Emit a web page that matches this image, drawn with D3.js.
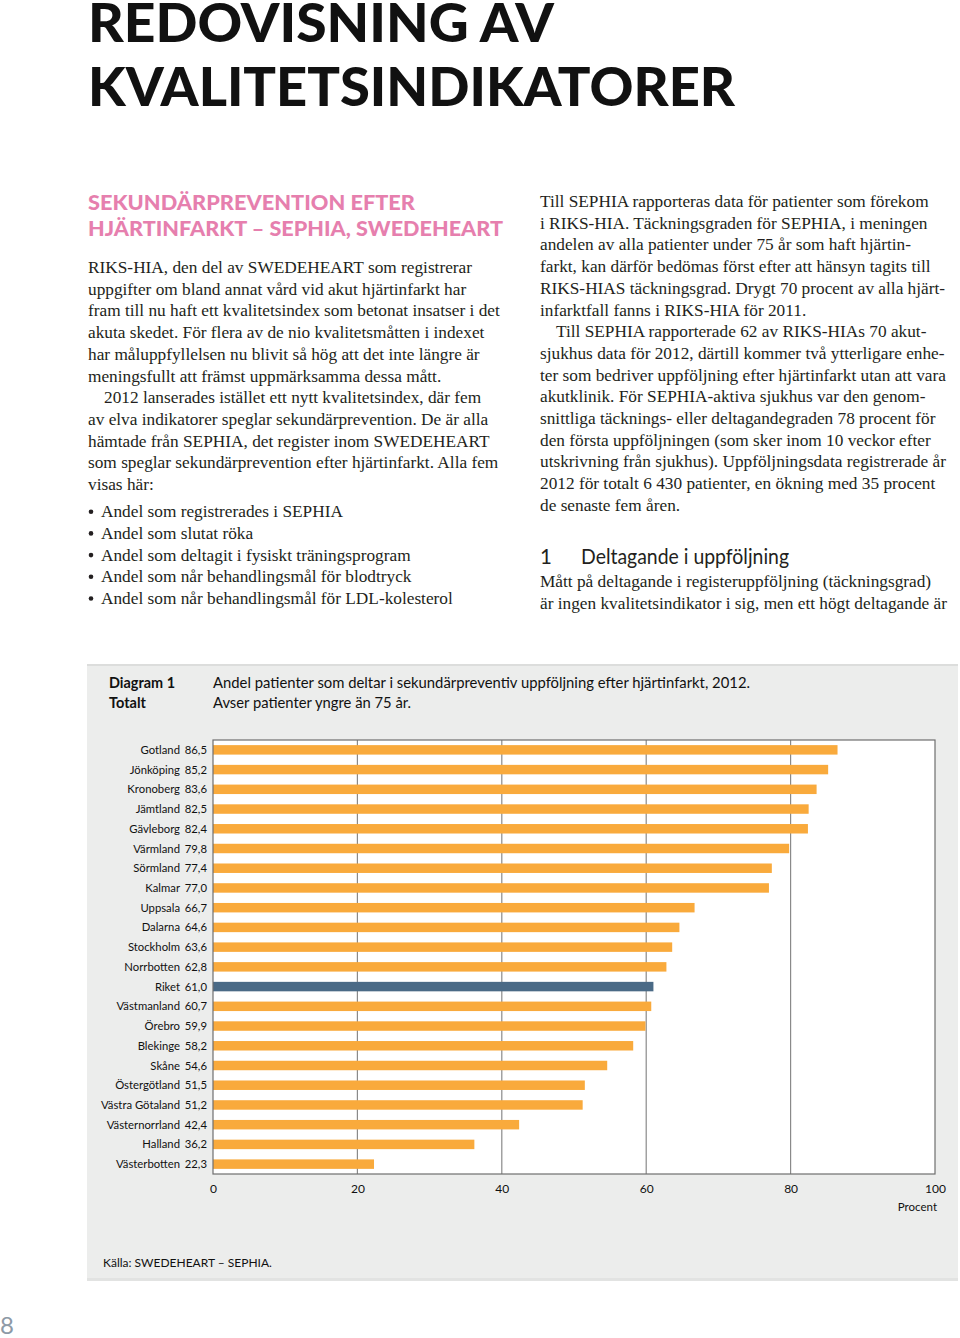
<!DOCTYPE html>
<html><head><meta charset="utf-8">
<script src="https://cdn.jsdelivr.net/npm/d3@7"></script>
<style>
html,body{margin:0;padding:0;background:#fff;}
svg{display:block;}
</style></head>
<body>
<script>
// ---------- DATA ----------
const regions = ["Gotland","Jönköping","Kronoberg","Jämtland","Gävleborg","Värmland","Sörmland","Kalmar","Uppsala","Dalarna","Stockholm","Norrbotten","Riket","Västmanland","Örebro","Blekinge","Skåne","Östergötland","Västra Götaland","Västernorrland","Halland","Västerbotten"];
const values = [86.5,85.2,83.6,82.5,82.4,79.8,77.4,77.0,66.7,64.6,63.6,62.8,61.0,60.7,59.9,58.2,54.6,51.5,51.2,42.4,36.2,22.3];
const highlight = "Riket";
const xTicks = [0,20,40,60,80,100];

const pageTitle = ["REDOVISNING AV","KVALITETSINDIKATORER"];
const sectionTitle = ["SEKUNDÄRPREVENTION EFTER","HJÄRTINFARKT – SEPHIA, SWEDEHEART"];
const leftParas = [
  ["RIKS-HIA, den del av SWEDEHEART som registrerar",
   "uppgifter om bland annat vård vid akut hjärtinfarkt har",
   "fram till nu haft ett kvalitetsindex som betonat insatser i det",
   "akuta skedet. För flera av de nio kvalitetsmåtten i indexet",
   "har måluppfyllelsen nu blivit så hög att det inte längre är",
   "meningsfullt att främst uppmärksamma dessa mått."],
  ["2012 lanserades istället ett nytt kvalitetsindex, där fem",
   "av elva indikatorer speglar sekundärprevention. De är alla",
   "hämtade från SEPHIA, det register inom SWEDEHEART",
   "som speglar sekundärprevention efter hjärtinfarkt. Alla fem",
   "visas här:"]
];
const bullets = ["Andel som registrerades i SEPHIA","Andel som slutat röka","Andel som deltagit i fysiskt träningsprogram","Andel som når behandlingsmål för blodtryck","Andel som når behandlingsmål för LDL-kolesterol"];
const rightParas = [
  ["Till SEPHIA rapporteras data för patienter som förekom",
   "i RIKS-HIA. Täckningsgraden för SEPHIA, i meningen",
   "andelen av alla patienter under 75 år som haft hjärtin-",
   "farkt, kan därför bedömas först efter att hänsyn tagits till",
   "RIKS-HIAS täckningsgrad. Drygt 70 procent av alla hjärt-",
   "infarktfall fanns i RIKS-HIA för 2011."],
  ["Till SEPHIA rapporterade 62 av RIKS-HIAs 70 akut-",
   "sjukhus data för 2012, därtill kommer två ytterligare enhe-",
   "ter som bedriver uppföljning efter hjärtinfarkt utan att vara",
   "akutklinik. För SEPHIA-aktiva sjukhus var den genom-",
   "snittliga täcknings- eller deltagandegraden 78 procent för",
   "den första uppföljningen (som sker inom 10 veckor efter",
   "utskrivning från sjukhus). Uppföljningsdata registrerade år",
   "2012 för totalt 6 430 patienter, en ökning med 35 procent",
   "de senaste fem åren."]
];
const subHeadNum = "1";
const subHead = "Deltagande i uppföljning";
const subParas = ["Mått på deltagande i registeruppföljning (täckningsgrad)","är ingen kvalitetsindikator i sig, men ett högt deltagande är"];
const diagLabel = ["Diagram 1","Totalt"];
const diagTitle = ["Andel patienter som deltar i sekundärpreventiv uppföljning efter hjärtinfarkt, 2012.","Avser patienter yngre än 75 år."];
const axisUnit = "Procent";
const source = "Källa: SWEDEHEART – SEPHIA.";
const pageNum = "8";

// ---------- DRAW ----------
const W = 960, H = 1338;
const svg = d3.select("body").append("svg").attr("width", W).attr("height", H);

const SANS = "Lato, 'Open Sans', sans-serif";
const SERIF = "'Liberation Serif', 'DejaVu Serif', serif";
const textCol = "#231f20";

// page title
svg.selectAll("text.ptitle").data(pageTitle).enter().append("text")
  .attr("x", 88).attr("y", (d,i)=>42+i*64)
  .attr("font-family", SANS).attr("font-weight", 900).attr("font-size", 53)
  .attr("fill", "#111")
  .attr("textLength", (d,i)=> i===0 ? 466 : 647).attr("lengthAdjust","spacingAndGlyphs")
  .text(d=>d);

// section title
svg.selectAll("text.stitle").data(sectionTitle).enter().append("text")
  .attr("x", 88).attr("y", (d,i)=>210+i*26)
  .attr("font-family", SANS).attr("font-weight", 900).attr("font-size", 21)
  .attr("fill", "#e67fae")
  .attr("textLength", (d,i)=> i===0 ? 327 : 415).attr("lengthAdjust","spacingAndGlyphs")
  .text(d=>d);

const LH = 21.7;
function para(lines, x, y0, indent, cls){
  svg.selectAll(null).data(lines).enter().append("text")
    .attr("x", (d,i)=> x + (i===0 ? indent : 0))
    .attr("y", (d,i)=> y0 + i*LH)
    .attr("font-family", SERIF).attr("font-size", 17.3)
    .attr("fill", textCol)
    .text(d=>d);
}
// left column
para(leftParas[0], 88, 273, 0);
para(leftParas[1], 88, 273 + 6*LH, 16);
const by0 = 273 + 11*LH + 5.5;
svg.selectAll(null).data(bullets).enter().append("circle")
  .attr("cx", 91).attr("cy",(d,i)=>by0 + i*LH - 5.5).attr("r", 2.3).attr("fill", textCol);
para(bullets, 101, by0, 0);

// right column
para(rightParas[0], 540, 207, 0);
para(rightParas[1], 540, 207 + 6*LH, 16);
svg.append("text").attr("x",540).attr("y",564).attr("font-family",SANS).attr("font-size",20.5).attr("fill",textCol).text(subHeadNum);
svg.append("text").attr("x",581).attr("y",564).attr("font-family",SANS).attr("font-size",20.5).attr("fill",textCol)
  .attr("textLength",208).attr("lengthAdjust","spacingAndGlyphs").text(subHead);
para(subParas, 540, 587, 0);

// ---------- diagram panel ----------
const panel = {x:87, y:664, w:871, h:617};
svg.append("rect").attr("x",panel.x).attr("y",panel.y).attr("width",panel.w).attr("height",panel.h).attr("fill","#ecedec");
svg.append("rect").attr("x",panel.x).attr("y",panel.y).attr("width",panel.w).attr("height",2).attr("fill","#dcdddc");
svg.append("rect").attr("x",panel.x).attr("y",panel.y+panel.h-3).attr("width",panel.w).attr("height",3).attr("fill","#e2e3e2");

svg.selectAll(null).data(diagLabel).enter().append("text")
  .attr("x",109).attr("y",(d,i)=>688+i*20)
  .attr("font-family",SANS).attr("font-weight",700).attr("font-size",15).attr("fill","#111")
  .attr("textLength",(d,i)=> i===0?66:37).attr("lengthAdjust","spacingAndGlyphs")
  .text(d=>d);
svg.selectAll(null).data(diagTitle).enter().append("text")
  .attr("x",213).attr("y",(d,i)=>688+i*20)
  .attr("font-family",SANS).attr("font-size",15).attr("fill","#111")
  .attr("textLength",(d,i)=> i===0?537:198).attr("lengthAdjust","spacingAndGlyphs")
  .text(d=>d);

const plot = {x0:213, x1:935, y0:740, y1:1174};
const x = d3.scaleLinear().domain([0,100]).range([plot.x0, plot.x1]);
const y = d3.scaleBand().domain(regions).range([plot.y0, plot.y1]).paddingInner(0.52).paddingOuter(0.26);

const g = svg.append("g");
g.append("rect").attr("x",plot.x0).attr("y",plot.y0).attr("width",plot.x1-plot.x0).attr("height",plot.y1-plot.y0).attr("fill","#fff");

// gridlines
g.selectAll("line.grid").data(xTicks.filter(t=>t>0 && t<100)).enter().append("line")
  .attr("x1",d=>x(d)).attr("x2",d=>x(d)).attr("y1",plot.y0).attr("y2",plot.y1)
  .attr("stroke","#8a8a8a").attr("stroke-width",1.2);

// bars
g.selectAll("rect.bar").data(regions).enter().append("rect")
  .attr("x", x(0)).attr("y", d=>y(d)).attr("height", y.bandwidth())
  .attr("width", (d,i)=> x(values[i]) - x(0))
  .attr("fill", d=> d===highlight ? "#4a6a86" : "#f9aa3c");

// frame
g.append("rect").attr("x",plot.x0).attr("y",plot.y0).attr("width",plot.x1-plot.x0).attr("height",plot.y1-plot.y0)
  .attr("fill","none").attr("stroke","#6e6e6e").attr("stroke-width",1.2);

// axis labels
const xAxis = d3.axisBottom(x).tickValues(xTicks).tickSize(0).tickPadding(0).tickFormat(d3.format("d"));
const ax = svg.append("g").attr("transform",`translate(0,${plot.y1})`).call(xAxis);
ax.select(".domain").remove();
ax.selectAll("text").attr("y",19).attr("dy",0).attr("font-family",SANS).attr("font-size",12).attr("fill","#111");

svg.append("text").attr("x",plot.x1+2).attr("y",1211).attr("text-anchor","end")
  .attr("font-family",SANS).attr("font-size",11.5).attr("fill","#111").text(axisUnit);

// category labels & values
const fmt = v => d3.format(".1f")(v).replace(".",",");
svg.selectAll(null).data(regions).enter().append("text")
  .attr("x",180).attr("y",d=>y(d)+y.bandwidth()/2+4)
  .attr("text-anchor","end").attr("font-family",SANS).attr("font-size",11.3).attr("fill","#111")
  .text(d=>d);
svg.selectAll(null).data(regions).enter().append("text")
  .attr("x",207).attr("y",d=>y(d)+y.bandwidth()/2+4)
  .attr("text-anchor","end").attr("font-family",SANS).attr("font-size",11.3).attr("fill","#111")
  .text((d,i)=>fmt(values[i]));

svg.append("text").attr("x",103).attr("y",1267).attr("font-family",SANS).attr("font-size",12).attr("fill","#111").text(source);

svg.append("text").attr("x",0).attr("y",1334).attr("font-family",SANS).attr("font-size",24).attr("fill","#8d9aa6").text(pageNum);
</script>
</body></html>
